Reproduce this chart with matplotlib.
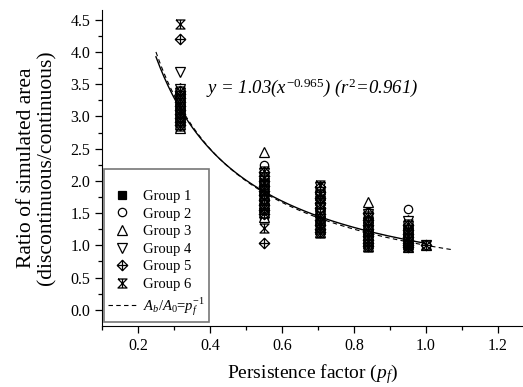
import numpy as np
import matplotlib
matplotlib.use("Agg")
import matplotlib.pyplot as plt
from matplotlib.path import Path
from matplotlib.lines import Line2D
from matplotlib.ticker import FormatStrFormatter

plt.rcParams["font.family"] = ["Liberation Serif", "DejaVu Serif"]
plt.rcParams["mathtext.fontset"] = "custom"
plt.rcParams["mathtext.rm"] = "Liberation Serif"
plt.rcParams["mathtext.it"] = "Liberation Serif:italic"
plt.rcParams["mathtext.default"] = "it"

# ---------------- data ----------------
pf = [0.316, 0.55, 0.707, 0.84, 0.95, 1.0]

g1 = [[2.86, 2.92, 2.98, 3.04, 3.10, 3.15, 3.20, 3.25, 3.30, 3.35, 3.40],
      [1.45, 1.52, 1.60, 1.66, 1.72, 1.80, 1.86, 1.92, 2.00, 2.05, 2.10],
      [1.22, 1.28, 1.34, 1.40, 1.46, 1.52, 1.62, 1.70, 1.76, 1.82, 1.88],
      [1.00, 1.05, 1.10, 1.15, 1.20, 1.25, 1.30, 1.36, 1.42, 1.46],
      [0.98, 1.02, 1.06, 1.10, 1.14, 1.18, 1.22, 1.26, 1.30],
      [1.00]]
g2 = [[2.84, 2.90, 2.96, 3.02, 3.08, 3.14, 3.20, 3.26, 3.32, 3.38],
      [1.55, 1.62, 1.68, 1.75, 1.82, 1.88, 1.95, 2.02, 2.10, 2.24],
      [1.24, 1.30, 1.38, 1.45, 1.55, 1.65, 1.72, 1.80, 1.86],
      [1.00, 1.04, 1.08, 1.12, 1.18, 1.22, 1.28, 1.34, 1.40, 1.52],
      [0.98, 1.02, 1.06, 1.10, 1.16, 1.22, 1.28, 1.35, 1.57],
      [1.00]]
g3 = [[2.82, 2.88, 2.94, 3.00, 3.06, 3.12, 3.18, 3.24, 3.30, 3.36, 3.44],
      [1.44, 1.52, 1.60, 1.66, 1.72, 1.80, 1.88, 1.95, 2.02, 2.08, 2.45],
      [1.20, 1.26, 1.32, 1.42, 1.52, 1.62, 1.70, 1.78, 1.88],
      [0.99, 1.03, 1.08, 1.12, 1.20, 1.26, 1.32, 1.42, 1.50, 1.67],
      [0.98, 1.02, 1.06, 1.10, 1.14, 1.20, 1.28, 1.34, 1.40],
      [1.00]]
g4 = [[2.88, 2.94, 3.00, 3.06, 3.12, 3.18, 3.24, 3.30, 3.36, 3.42, 3.69],
      [1.50, 1.56, 1.62, 1.70, 1.76, 1.84, 1.90, 1.96, 2.06, 2.12],
      [1.25, 1.32, 1.38, 1.45, 1.52, 1.60, 1.68, 1.76, 1.84, 1.90],
      [1.02, 1.06, 1.10, 1.16, 1.22, 1.28, 1.35, 1.42, 1.48],
      [0.99, 1.03, 1.08, 1.12, 1.18, 1.24, 1.30, 1.38],
      [1.00]]
g5 = [[2.86, 2.92, 2.98, 3.04, 3.10, 3.16, 3.22, 3.28, 3.34, 3.40, 4.20],
      [1.03, 1.48, 1.54, 1.62, 1.70, 1.78, 1.85, 1.92, 2.00, 2.08, 2.14],
      [1.20, 1.26, 1.32, 1.40, 1.48, 1.58, 1.66, 1.74, 1.82, 1.90],
      [0.99, 1.03, 1.08, 1.14, 1.20, 1.26, 1.32, 1.40, 1.50],
      [0.98, 1.00, 1.04, 1.08, 1.13, 1.18, 1.24, 1.32],
      [1.00]]
g6 = [[2.85, 2.91, 2.97, 3.03, 3.09, 3.15, 3.21, 3.27, 3.33, 3.39, 4.43],
      [1.27, 1.50, 1.58, 1.64, 1.72, 1.80, 1.88, 1.96, 2.04, 2.16],
      [1.19, 1.25, 1.30, 1.36, 1.44, 1.50, 1.64, 1.72, 1.80, 1.93],
      [0.97, 1.02, 1.07, 1.12, 1.18, 1.24, 1.30, 1.38, 1.46],
      [0.97, 1.00, 1.04, 1.09, 1.14, 1.20, 1.26, 1.33],
      [1.00]]

group_labels = ["Group 1", "Group 2", "Group 3", "Group 4", "Group 5", "Group 6"]

fit_a, fit_b = 1.03, -0.965
fit_text = r"$y$ = 1.03($x^{-0.965}$) ($r^{2}$=0.961)"

# ---------------- markers ----------------
diamond_plus = Path(
    [(0, 1), (1, 0), (0, -1), (-1, 0), (0, 1), (0, 1), (0, -1), (-1, 0), (1, 0)],
    [Path.MOVETO, Path.LINETO, Path.LINETO, Path.LINETO, Path.CLOSEPOLY,
     Path.MOVETO, Path.LINETO, Path.MOVETO, Path.LINETO])
hourglass = Path(
    [(-1, 1), (1, 1), (-1, -1), (1, -1), (-1, 1), (0, 1), (0, -1)],
    [Path.MOVETO, Path.LINETO, Path.LINETO, Path.LINETO, Path.LINETO,
     Path.MOVETO, Path.LINETO])

styles = [
    dict(marker="s", mfc="black", ms=5.5),
    dict(marker="o", mfc="white", ms=6),
    dict(marker="^", mfc="white", ms=6.5),
    dict(marker="v", mfc="white", ms=6.5),
    dict(marker=diamond_plus, mfc="white", ms=7.5),
    dict(marker=hourglass, mfc="none", ms=6.5),
]

fig = plt.figure(figsize=(5.23, 3.87), dpi=100)
ax = fig.add_axes([0.195, 0.158, 0.805, 0.816])

handles = []
for vals, lab, st in zip([g1, g2, g3, g4, g5, g6], group_labels, styles):
    xs, ys = [], []
    for p, v in zip(pf, vals):
        xs += [p] * len(v)
        ys += v
    ax.plot(xs, ys, linestyle="none", color="black", mec="black", mew=0.9, **st)
    handles.append(Line2D([], [], linestyle="none", color="black", mec="black",
                          mew=0.9, label=lab, **st))

xf = np.linspace(0.25, 1.0, 200)
ax.plot(xf, fit_a * xf ** fit_b, color="black", lw=1.0)
xd = np.linspace(0.25, 1.07, 200)
ax.plot(xd, 1.0 / xd, color="black", lw=0.8, ls=(0, (4, 3)))
handles.append(Line2D([], [], color="black", lw=0.8, ls=(0, (4, 3)),
                      label=r"$A_b/A_0$=$p_f^{-1}$"))

ax.text(0.39, 3.44, fit_text, fontsize=13.5, style="italic", va="center")

ax.set_xlim(0.1, 1.27)
ax.set_ylim(-0.25, 4.65)
ax.set_xticks([0.2, 0.4, 0.6, 0.8, 1.0, 1.2])
ax.set_xticks(np.arange(0.1, 1.27, 0.1), minor=True)
ax.set_yticks(np.arange(0, 4.51, 0.5))
ax.set_yticks(np.arange(0, 4.6, 0.25), minor=True)
ax.xaxis.set_major_formatter(FormatStrFormatter("%.1f"))
ax.yaxis.set_major_formatter(FormatStrFormatter("%.1f"))
ax.tick_params(which="both", direction="out", labelsize=11.5, width=0.9)
ax.tick_params(which="major", length=5)
ax.tick_params(which="minor", length=3)
for s in ["top", "right"]:
    ax.spines[s].set_visible(False)

ax.set_xlabel(r"Persistence factor ($p_f$)", fontsize=14, labelpad=6)
ax.set_ylabel("Ratio of simulated area\n(discontinuous/continuous)",
              fontsize=15.5, labelpad=10, linespacing=1.1)

leg = ax.legend(handles=handles, loc="lower left", bbox_to_anchor=(0.005, 0.012),
                borderaxespad=0, fontsize=10.5, frameon=True, fancybox=False,
                labelspacing=0.3, handlelength=1.9, handletextpad=0.45,
                borderpad=0.3, title=" ", title_fontsize=9)
leg.get_frame().set_edgecolor("#555555")
leg.get_frame().set_linewidth(1.2)

fig.savefig("out.png", dpi=100)
